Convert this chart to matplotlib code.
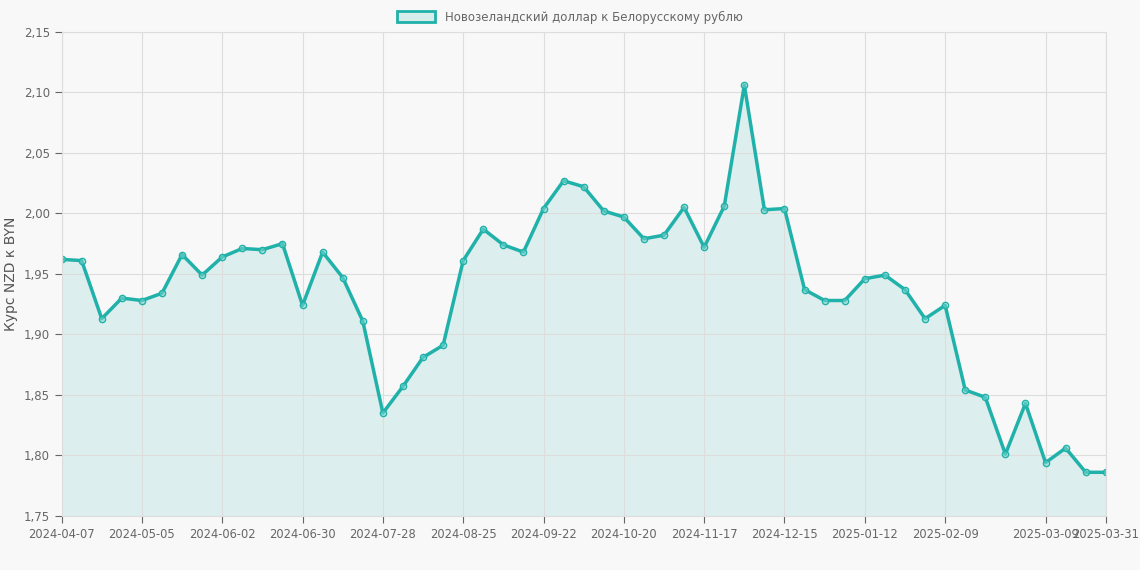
import matplotlib.pyplot as plt
import matplotlib.patches as mpatches

values = [1.962, 1.961, 1.913, 1.930, 1.928, 1.934, 1.966, 1.949, 1.964, 1.971,
          1.970, 1.975, 1.924, 1.968, 1.947, 1.911, 1.835, 1.857, 1.881, 1.891,
          1.961, 1.987, 1.974, 1.968, 2.004, 2.027, 2.022, 2.002, 1.997, 1.979,
          1.982, 2.005, 1.972, 2.006, 2.106, 2.003, 2.004, 1.937, 1.928, 1.928,
          1.946, 1.949, 1.937, 1.913, 1.924, 1.854, 1.848, 1.801, 1.843, 1.794,
          1.806, 1.786, 1.786]
tick_pos = [0, 4, 8, 12, 16, 20, 24, 28, 32, 36, 40, 44, 49, 52]
tick_labels = ['2024-04-07', '2024-05-05', '2024-06-02', '2024-06-30', '2024-07-28',
               '2024-08-25', '2024-09-22', '2024-10-20', '2024-11-17', '2024-12-15',
               '2025-01-12', '2025-02-09', '2025-03-09', '2025-03-31']
y_ticks = [1.75, 1.80, 1.85, 1.90, 1.95, 2.00, 2.05, 2.10, 2.15]

color = '#20b2aa'
bg = '#f8f8f8'
x = list(range(len(values)))

fig = plt.figure(figsize=(11.4, 5.7), dpi=100, facecolor=bg)
ax = fig.add_axes([0.054, 0.095, 0.916, 0.849], facecolor=bg)
ax.fill_between(x, values, 1.75, color=color, alpha=0.13, linewidth=0)
ax.plot(x, values, color=color, linewidth=2.5, marker='o', markersize=4.5,
        markerfacecolor=(0.5, 0.85, 0.82, 0.5), markeredgecolor=color, markeredgewidth=1)
ax.set_xlim(0, len(values) - 1)
ax.set_ylim(1.75, 2.15)
ax.set_xticks(tick_pos)
ax.set_xticklabels(tick_labels, fontsize=8.3)
ax.set_yticks(y_ticks)
ax.set_yticklabels([f'{v:.2f}'.replace('.', ',') for v in y_ticks], fontsize=8.5)
ax.grid(True, color='#dddddd', linewidth=0.8)
ax.tick_params(colors='#666666', length=5)
for s in ax.spines.values():
    s.set_color('#dddddd')
ax.set_ylabel('Курс NZD к BYN', color='#555555', fontsize=10)

handle = mpatches.Patch(facecolor=(0.13, 0.7, 0.67, 0.15), edgecolor=color, linewidth=2,
                        label='Новозеландский доллар к Белорусскому рублю')
fig.legend(handles=[handle], loc='upper center', bbox_to_anchor=(0.5, 1.0), frameon=False,
           fontsize=8.5, labelcolor='#666666', handlelength=3.2, handleheight=1.0)

fig.savefig('out.png', dpi=100, facecolor=bg)
